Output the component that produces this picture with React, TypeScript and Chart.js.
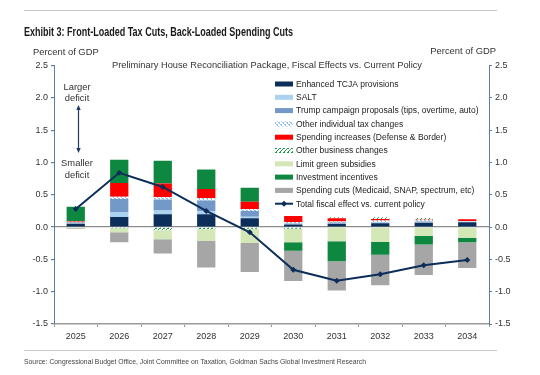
import React, { useEffect, useRef } from "react";
import { Chart, registerables } from "chart.js";
Chart.register(...registerables);

const years = ["2025", "2026", "2027", "2028", "2029", "2030", "2031", "2032", "2033", "2034"];
const enhancedTcja = [0.05, 0.155, 0.2, 0.2, 0.135, 0.04, 0.05, 0.06, 0.065, 0.075];
const salt = [0.01, 0.07, 0.055, 0.045, 0.025, 0.01, 0.01, 0.01, 0.01, 0.01];
const trumpProposals = [0.01, 0.21, 0.17, 0.165, 0.09, 0.01, 0.01, 0.01, 0.01, 0.0];
const otherIndividual = [0.005, 0.035, 0.04, 0.04, 0.03, 0.02, 0.015, 0.02, 0.02, 0.01];
const spendingIncreases = [0.01, 0.21, 0.21, 0.14, 0.11, 0.09, 0.05, 0.025, 0.01, 0.025];
const otherBusiness = [0.01, -0.02, -0.05, -0.035, -0.025, -0.025, 0.015, 0.025, 0.025, -0.01];
const limitGreen = [-0.02, -0.06, -0.14, -0.18, -0.22, -0.21, -0.22, -0.23, -0.14, -0.155];
const investmentIncentives = [0.22, 0.36, 0.35, 0.3, 0.22, -0.13, -0.31, -0.2, -0.13, -0.07];
const spendingCuts = [-0.01, -0.155, -0.22, -0.41, -0.45, -0.47, -0.45, -0.47, -0.47, -0.4];
const totalEffect = [0.28, 0.84, 0.62, 0.25, -0.08, -0.66, -0.83, -0.73, -0.59, -0.51];

const yMin = -1.5;
const yMax = 2.5;
const yStep = 0.5;

const titleText = "Exhibit 3: Front-Loaded Tax Cuts, Back-Loaded Spending Cuts";
const subtitleText = "Preliminary House Reconciliation Package, Fiscal Effects vs. Current Policy";
const axisTitle = "Percent of GDP";
const sourceText =
  "Source: Congressional Budget Office, Joint Committee on Taxation, Goldman Sachs Global Investment Research";

const NAVY = "#0c2e5a";
const SALT_C = "#a9d1f0";
const TRUMP_C = "#7399c9";
const RED = "#ff0000";
const LGREEN = "#d3e8b6";
const GREEN = "#0e8741";
const GREY = "#a6a6a6";
const AXIS_BLUE = "#5d7fa3";

function makePattern(fg: string, bg: string, dotted: boolean): CanvasPattern | string {
  const cv = document.createElement("canvas");
  cv.width = 4;
  cv.height = 4;
  const g = cv.getContext("2d");
  if (!g) return fg;
  g.fillStyle = bg;
  g.fillRect(0, 0, 4, 4);
  g.fillStyle = fg;
  if (dotted) {
    g.fillRect(0, 0, 2, 1);
    g.fillRect(2, 2, 2, 1);
    g.fillRect(1, 1, 1, 1);
    g.fillRect(3, 3, 1, 1);
  } else {
    for (let i = 0; i < 4; i++) g.fillRect(i, 3 - i, 1, 1);
    g.fillRect(0, 0, 1, 1);
  }
  const p = g.createPattern(cv, "repeat");
  return p || fg;
}

function fillFit(c: CanvasRenderingContext2D, text: string, x: number, y: number, w: number) {
  const m = c.measureText(text).width;
  const k = m > 0 ? w / m : 1;
  c.save();
  c.translate(x, y);
  c.scale(k, 1);
  c.textAlign = "left";
  c.fillText(text, 0, 0);
  c.restore();
}

export default function App() {
  const ref = useRef<HTMLCanvasElement | null>(null);

  useEffect(() => {
    if (!ref.current) return;
    Chart.defaults.font.family = "'Liberation Sans', Arial, sans-serif";
    const otherIndPat = makePattern("#8fc0ea", "#ffffff", true);
    const otherBusPat = makePattern("#1e9a4c", "#ffffff", false);

    const legendItems = [
      { label: "Enhanced TCJA provisions", fill: NAVY as any },
      { label: "SALT", fill: SALT_C as any },
      { label: "Trump campaign proposals (tips, overtime, auto)", fill: TRUMP_C as any },
      { label: "Other individual tax changes", fill: otherIndPat as any },
      { label: "Spending increases (Defense & Border)", fill: RED as any },
      { label: "Other business changes", fill: otherBusPat as any },
      { label: "Limit green subsidies", fill: LGREEN as any },
      { label: "Investment incentives", fill: GREEN as any },
      { label: "Spending cuts (Medicaid, SNAP, spectrum, etc)", fill: GREY as any },
      { label: "Total fiscal effect vs. current policy", fill: null },
    ];

    const overlay = {
      id: "overlay",
      afterDraw(chart: any) {
        const c: CanvasRenderingContext2D = chart.ctx;
        c.save();
        // rules
        c.strokeStyle = "#c8c8c8";
        c.lineWidth = 1;
        c.beginPath();
        c.moveTo(24, 10.5);
        c.lineTo(497, 10.5);
        c.moveTo(24, 350.5);
        c.lineTo(497, 350.5);
        c.stroke();
        // title
        c.fillStyle = "#1a1a1a";
        c.textBaseline = "middle";
        c.textAlign = "left";
        c.font = "bold 12.5px 'Liberation Sans', Arial, sans-serif";
        fillFit(c, titleText, 24, 33, 269);
        // axis titles
        c.fillStyle = "#333";
        c.font = "9.4px 'Liberation Sans', Arial, sans-serif";
        c.fillText(axisTitle, 33, 52.5);
        c.textAlign = "right";
        c.fillText(axisTitle, 496, 51);
        // subtitle
        c.textAlign = "left";
        c.font = "9.4px 'Liberation Sans', Arial, sans-serif";
        fillFit(c, subtitleText, 112, 65.5, 310);
        // source
        c.fillStyle = "#444";
        c.font = "8px 'Liberation Sans', Arial, sans-serif";
        fillFit(c, sourceText, 24, 362, 342);

        // annotation
        c.fillStyle = "#333";
        c.font = "9.4px 'Liberation Sans', Arial, sans-serif";
        c.textAlign = "center";
        c.fillText("Larger", 77, 87);
        c.fillText("deficit", 77, 98.5);
        c.fillText("Smaller", 77, 163.5);
        c.fillText("deficit", 77, 175);
        c.strokeStyle = "#1f3a60";
        c.fillStyle = "#1f3a60";
        c.lineWidth = 1.2;
        c.beginPath();
        c.moveTo(78.5, 108);
        c.lineTo(78.5, 150);
        c.stroke();
        c.beginPath();
        c.moveTo(78.5, 105);
        c.lineTo(76.3, 110);
        c.lineTo(80.7, 110);
        c.closePath();
        c.fill();
        c.beginPath();
        c.moveTo(78.5, 153);
        c.lineTo(76.3, 148);
        c.lineTo(80.7, 148);
        c.closePath();
        c.fill();

        // legend
        c.textAlign = "left";
        c.font = "8.5px 'Liberation Sans', Arial, sans-serif";
        legendItems.forEach((it, i) => {
          const y = 84 + i * 13.3;
          if (it.fill) {
            c.fillStyle = it.fill;
            c.fillRect(275, y - 2.5, 18, 5);
          } else {
            c.strokeStyle = NAVY;
            c.lineWidth = 2;
            c.beginPath();
            c.moveTo(275, y);
            c.lineTo(293, y);
            c.stroke();
            c.fillStyle = NAVY;
            c.beginPath();
            c.moveTo(284, y - 3);
            c.lineTo(287, y);
            c.lineTo(284, y + 3);
            c.lineTo(281, y);
            c.closePath();
            c.fill();
          }
          c.fillStyle = "#222";
          c.fillText(it.label, 296, y + 0.5);
        });
        c.restore();
      },
    };

    const barDs = (label: string, data: number[], color: any) => ({
      type: "bar" as const,
      label,
      data,
      backgroundColor: color,
      borderWidth: 0,
      stack: "bars",
      order: 1,
      barPercentage: 0.42,
      categoryPercentage: 1,
    });

    const chart = new Chart(ref.current, {
      type: "bar",
      data: {
        labels: years,
        datasets: [
          barDs("Enhanced TCJA provisions", enhancedTcja, NAVY),
          barDs("SALT", salt, SALT_C),
          barDs("Trump campaign proposals (tips, overtime, auto)", trumpProposals, TRUMP_C),
          barDs("Other individual tax changes", otherIndividual, otherIndPat),
          barDs("Spending increases (Defense & Border)", spendingIncreases, RED),
          barDs("Other business changes", otherBusiness, otherBusPat),
          barDs("Limit green subsidies", limitGreen, LGREEN),
          barDs("Investment incentives", investmentIncentives, GREEN),
          barDs("Spending cuts (Medicaid, SNAP, spectrum, etc)", spendingCuts, GREY),
          {
            type: "line" as const,
            label: "Total fiscal effect vs. current policy",
            data: totalEffect,
            borderColor: NAVY,
            backgroundColor: NAVY,
            borderWidth: 2,
            pointStyle: "rectRot",
            pointRadius: 3,
            pointBorderWidth: 0,
            stack: "line",
            order: 0,
            tension: 0,
          } as any,
        ],
      },
      options: {
        responsive: false,
        animation: false,
        devicePixelRatio: 1,
        layout: { padding: { top: 65.5, bottom: 0, left: 0, right: 0 } },
        plugins: {
          legend: { display: false },
          tooltip: { enabled: false },
          title: { display: false },
        },
        scales: {
          x: {
            stacked: true,
            offset: true,
            grid: {
              offset: true,
              drawOnChartArea: false,
              drawTicks: true,
              tickLength: 3,
              color: "#999",
            },
            border: { color: "#9a9a9a", width: 1.5 },
            ticks: { color: "#333", font: { size: 9 }, padding: 4 },
            afterFit: (s: any) => {
              s.height = 51;
            },
          },
          y: {
            stacked: true,
            position: "left",
            min: yMin,
            max: yMax,
            ticks: {
              stepSize: yStep,
              color: "#333",
              font: { size: 9 },
              padding: 3,
              callback: (v: any) => Number(v).toFixed(1),
            },
            grid: {
              color: (ctx: any) => (ctx.tick && ctx.tick.value === 0 ? "#8c8c8c" : "rgba(0,0,0,0)"),
              lineWidth: 1.2,
              tickColor: AXIS_BLUE,
              tickLength: 3,
            },
            border: { color: AXIS_BLUE, width: 1 },
            afterFit: (s: any) => {
              s.width = 54;
            },
          },
          y2: {
            position: "right",
            min: yMin,
            max: yMax,
            ticks: {
              stepSize: yStep,
              color: "#333",
              font: { size: 9 },
              padding: 3,
              callback: (v: any) => Number(v).toFixed(1),
            },
            grid: {
              drawOnChartArea: false,
              tickColor: AXIS_BLUE,
              tickLength: 3,
            },
            border: { color: AXIS_BLUE, width: 1 },
            afterFit: (s: any) => {
              s.width = 51;
            },
          },
        },
      } as any,
      plugins: [overlay],
    });
    return () => chart.destroy();
  }, []);

  return (
    <div style={{ position: "fixed", left: 0, top: 0, width: 540, height: 375, background: "#fff" }}>
      <canvas ref={ref} width={540} height={375} style={{ width: 540, height: 375, display: "block" }} />
    </div>
  );
}
